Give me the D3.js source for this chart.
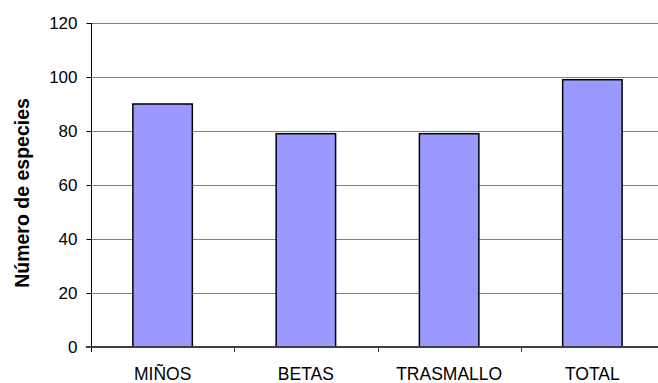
<!DOCTYPE html>
<html>
<head>
<meta charset="utf-8">
<script src="https://cdn.jsdelivr.net/npm/d3@7"></script>
<style>
  html, body { margin: 0; padding: 0; background: #fff; }
  svg { display: block; }
  text { font-family: "Liberation Sans", Arial, sans-serif; fill: #000; }
</style>
</head>
<body>
<svg id="chart" width="658" height="383"></svg>
<script>
// Species counts per fishing gear
const categories = ["MIÑOS", "BETAS", "TRASMALLO", "TOTAL"];
const species = [90, 79, 79, 99];
const yTicks = [0, 20, 40, 60, 80, 100, 120];
const yTitle = "Número de especies";

const svg = d3.select("#chart");
const margin = { left: 91, top: 23 };
const plotW = 573, plotH = 324;

const x = d3.scaleBand()
  .domain(categories)
  .range([margin.left, margin.left + plotW])
  .paddingInner(0.585)
  .paddingOuter(0.2925);

const y = d3.scaleLinear()
  .domain([0, 120])
  .range([margin.top + plotH, margin.top]);

// horizontal gridlines
svg.append("g")
  .selectAll("line")
  .data(yTicks.filter(d => d > 0))
  .join("line")
  .attr("x1", margin.left)
  .attr("x2", margin.left + plotW)
  .attr("y1", d => Math.round(y(d)) + 0.5)
  .attr("y2", d => Math.round(y(d)) + 0.5)
  .attr("stroke", "#808080")
  .attr("stroke-width", 1);

// bars
svg.append("g")
  .selectAll("rect")
  .data(categories.map((c, i) => ({ c, v: species[i] })))
  .join("rect")
  .attr("x", d => x(d.c))
  .attr("y", d => y(d.v))
  .attr("width", x.bandwidth())
  .attr("height", d => y(0) - y(d.v))
  .attr("fill", "#9999ff")
  .attr("stroke", "#000")
  .attr("stroke-width", 1.5);

// y axis
const yAxis = d3.axisLeft(y).tickValues(yTicks).tickSize(5).tickPadding(9);
const gy = svg.append("g")
  .attr("transform", `translate(${margin.left + 0.5},0)`)
  .call(yAxis);
gy.select(".domain").attr("stroke", "#000").attr("d", `M0,${y(120)}V${y(0) + 5}`);
gy.selectAll(".tick line").attr("stroke", "#000");
gy.selectAll(".tick text")
  .style("font-family", '"Liberation Sans", Arial, sans-serif')
  .style("font-size", "17px")
  .attr("fill", "#000");

// x axis
const gx = svg.append("g")
  .attr("transform", `translate(0,${y(0)})`);
gx.append("line")
  .attr("x1", margin.left - 5)
  .attr("x2", margin.left + plotW)
  .attr("y1", 0).attr("y2", 0)
  .attr("stroke", "#404040")
  .attr("stroke-width", 2);
gx.selectAll("line.tk")
  .data(d3.range(1, categories.length))
  .join("line")
  .attr("class", "tk")
  .attr("x1", i => Math.round(margin.left + i * x.step()) + 0.5)
  .attr("x2", i => Math.round(margin.left + i * x.step()) + 0.5)
  .attr("y1", 0).attr("y2", 5)
  .attr("stroke", "#404040");
gx.selectAll("text")
  .data(categories)
  .join("text")
  .attr("x", d => x(d) + x.bandwidth() / 2)
  .attr("y", 33)
  .attr("text-anchor", "middle")
  .style("font-size", "17.5px")
  .text(d => d);

// y axis title
svg.append("text")
  .attr("transform", `translate(29,193) rotate(-90)`)
  .attr("text-anchor", "middle")
  .style("font-size", "19.5px")
  .style("font-weight", "bold")
  .text(yTitle);
</script>
</body>
</html>
